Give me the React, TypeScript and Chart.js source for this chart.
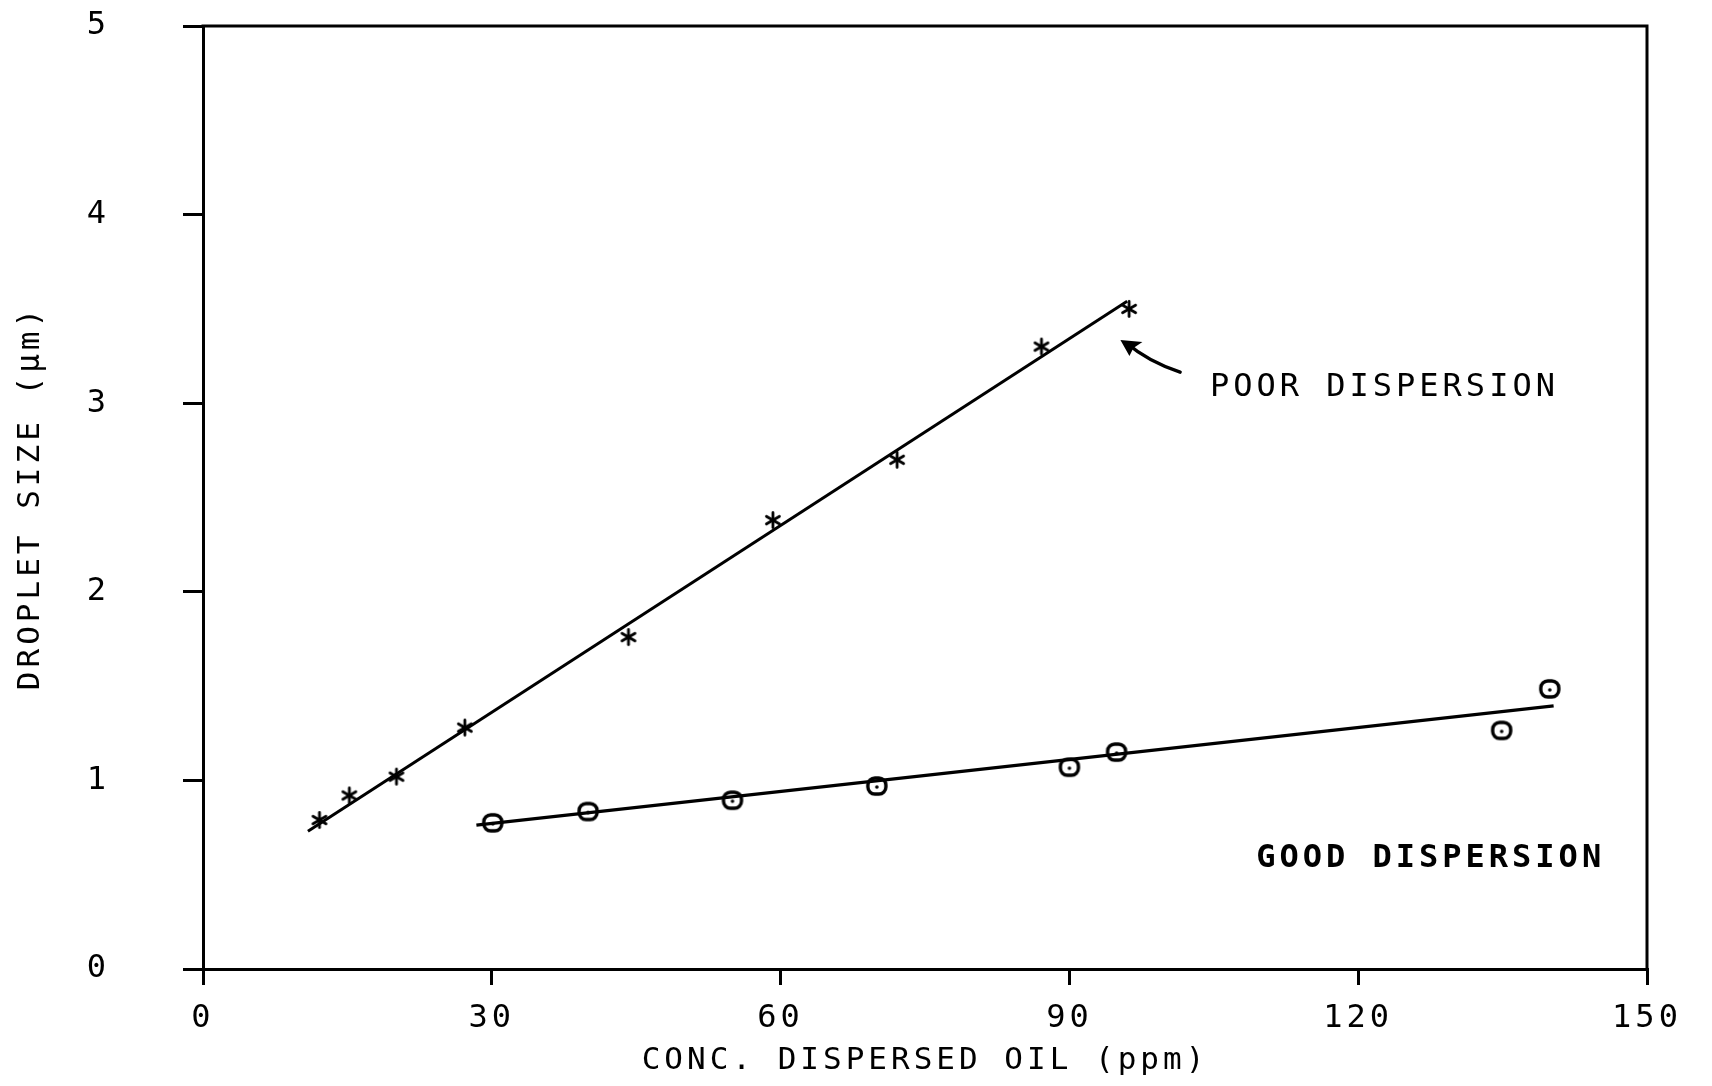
import React, { useEffect, useRef } from "react";
import { Chart, registerables } from "chart.js";

Chart.register(...registerables);

// ---- data ----
const poorX = [12.1, 15.2, 20.1, 27.2, 44.2, 59.2, 72.1, 87.1, 96.2];
const poorY = [0.79, 0.92, 1.02, 1.28, 1.76, 2.38, 2.7, 3.3, 3.5];
const poorFitX = [10.9, 96.0];
const poorFitY = [0.73, 3.54];

const goodX = [30.1, 40.0, 55.0, 70.0, 90.0, 94.9, 134.9, 139.9];
const goodY = [0.775, 0.835, 0.895, 0.97, 1.07, 1.15, 1.265, 1.485];
const goodFitX = [28.4, 140.3];
const goodFitY = [0.763, 1.395];

const xTicks = [0, 30, 60, 90, 120, 150];
const yTicks = [0, 1, 2, 3, 4, 5];

const xTitle = "CONC. DISPERSED OIL (ppm)";
const yTitle = "DROPLET SIZE (μm)";
const poorLabel = "POOR DISPERSION";
const goodLabel = "GOOD DISPERSION";

const poorLabelPos = { x: 104.6, y: 3.04 };
const goodLabelPos = { x: 109.4, y: 0.54 };
const arrowTip = { x: 95.3, y: 3.335 };
const arrowCtrl = { x: 98.2, y: 3.22 };
const arrowTail = { x: 101.5, y: 3.165 };

const FAMILY = '"DejaVu Sans Mono", "Liberation Mono", monospace';
const FONT_SIZE = 32;
const TITLE_SIZE = 31;
const SPACING = "4px";

function makeStar(): HTMLCanvasElement {
  const c = document.createElement("canvas");
  c.width = 22;
  c.height = 22;
  const g = c.getContext("2d")!;
  g.strokeStyle = "#000";
  g.lineWidth = 2.8;
  g.lineCap = "round";
  const r = 7.5;
  for (const a of [90, 30, -30]) {
    const rad = (a * Math.PI) / 180;
    g.beginPath();
    g.moveTo(11 - r * Math.cos(rad), 11 - r * Math.sin(rad));
    g.lineTo(11 + r * Math.cos(rad), 11 + r * Math.sin(rad));
    g.stroke();
  }
  return c;
}

function makeRing(): HTMLCanvasElement {
  const c = document.createElement("canvas");
  c.width = 24;
  c.height = 22;
  const g = c.getContext("2d")!;
  g.strokeStyle = "#000";
  g.fillStyle = "#000";
  g.lineWidth = 3.4;
  g.beginPath();
  (g as any).roundRect(3, 3, 18, 16, 7);
  g.stroke();
  g.beginPath();
  g.arc(12, 12, 1.8, 0, Math.PI * 2);
  g.fill();
  return c;
}

const pts = (xs: number[], ys: number[]) => xs.map((x, i) => ({ x, y: ys[i] }));

export default function App() {
  const ref = useRef<HTMLCanvasElement | null>(null);

  useEffect(() => {
    document.body.style.margin = "0";
    document.body.style.overflow = "hidden";
    const canvas = ref.current;
    if (!canvas) return;

    const spacingPlugin = {
      id: "spacing",
      beforeDraw(chart: any) {
        chart.ctx.letterSpacing = SPACING;
      },
    };

    const framePlugin = {
      id: "frame",
      afterDraw(chart: any) {
        const { ctx, chartArea: a, scales } = chart;
        ctx.save();
        ctx.strokeStyle = "#000";
        ctx.lineWidth = 3;
        ctx.beginPath();
        ctx.moveTo(a.left - 1.5, a.top);
        ctx.lineTo(a.right, a.top);
        ctx.lineTo(a.right, a.bottom);
        ctx.stroke();

        const sx = scales.x;
        const sy = scales.y;
        const px = (p: { x: number; y: number }) => [sx.getPixelForValue(p.x), sy.getPixelForValue(p.y)];

        ctx.fillStyle = "#000";
        ctx.letterSpacing = SPACING;
        ctx.textBaseline = "alphabetic";
        ctx.textAlign = "left";
        ctx.font = `${FONT_SIZE}px ${FAMILY}`;
        const [plx, ply] = px(poorLabelPos);
        ctx.fillText(poorLabel, plx, ply);
        ctx.font = `bold ${FONT_SIZE}px ${FAMILY}`;
        const [glx, gly] = px(goodLabelPos);
        ctx.fillText(goodLabel, glx, gly);

        const [tx, ty] = px(arrowTip);
        const [cx, cy] = px(arrowCtrl);
        const [lx, ly] = px(arrowTail);
        ctx.lineWidth = 3.5;
        ctx.lineCap = "round";
        ctx.beginPath();
        ctx.moveTo(lx, ly);
        ctx.quadraticCurveTo(cx, cy, tx + 6, ty + 3);
        ctx.stroke();
        ctx.beginPath();
        ctx.moveTo(tx, ty);
        ctx.lineTo(tx + 22, ty + 2);
        ctx.lineTo(tx + 13, ty + 8);
        ctx.lineTo(tx + 9, ty + 16);
        ctx.closePath();
        ctx.fill();
        ctx.restore();
      },
    };

    const font = { family: FAMILY, size: FONT_SIZE };
    const titleFont = { family: FAMILY, size: TITLE_SIZE };

    const chart = new Chart(canvas, {
      type: "scatter",
      data: {
        datasets: [
          { label: "poor points", data: pts(poorX, poorY), pointStyle: makeStar() as any, pointRadius: 8, showLine: false },
          { label: "good points", data: pts(goodX, goodY), pointStyle: makeRing() as any, pointRadius: 9, showLine: false },
          { label: "poor fit", data: pts(poorFitX, poorFitY), showLine: true, borderColor: "#000", borderWidth: 3, pointRadius: 0 },
          { label: "good fit", data: pts(goodFitX, goodFitY), showLine: true, borderColor: "#000", borderWidth: 3.2, pointRadius: 0 },
        ],
      },
      options: {
        animation: false,
        responsive: true,
        maintainAspectRatio: false,
        layout: { padding: { left: 0, right: 65, top: 26, bottom: 0 } },
        plugins: { legend: { display: false }, tooltip: { enabled: false }, title: { display: false } },
        scales: {
          x: {
            type: "linear",
            min: 0,
            max: 150,
            afterBuildTicks: (s: any) => {
              s.ticks = xTicks.map((v) => ({ value: v }));
            },
            afterFit: (s: any) => {
              s.height = 117;
            },
            ticks: { font, color: "#000", padding: 14, maxRotation: 0, autoSkip: false },
            grid: { drawOnChartArea: false, drawTicks: true, tickLength: 16, color: "#000", lineWidth: 3 },
            border: { display: true, color: "#000", width: 3 },
            title: { display: true, text: xTitle, font: titleFont, color: "#000", padding: { top: 0, bottom: 6 } },
          },
          y: {
            type: "linear",
            min: 0,
            max: 5,
            afterBuildTicks: (s: any) => {
              s.ticks = yTicks.map((v) => ({ value: v }));
            },
            afterFit: (s: any) => {
              s.width = 203;
              s.paddingTop = 0;
              s.paddingBottom = 0;
            },
            ticks: { font, color: "#000", padding: 73, autoSkip: false },
            grid: { drawOnChartArea: false, drawTicks: true, tickLength: 20, color: "#000", lineWidth: 3 },
            border: { display: true, color: "#000", width: 3 },
            title: { display: true, text: yTitle, font: titleFont, color: "#000", padding: { top: 12, bottom: 0 } },
          },
        },
      },
      plugins: [spacingPlugin, framePlugin],
    } as any);

    return () => chart.destroy();
  }, []);

  return (
    <div style={{ position: "relative", width: 1712, height: 1086, background: "#fff" }}>
      <canvas ref={ref} style={{ display: "block" }} />
    </div>
  );
}
